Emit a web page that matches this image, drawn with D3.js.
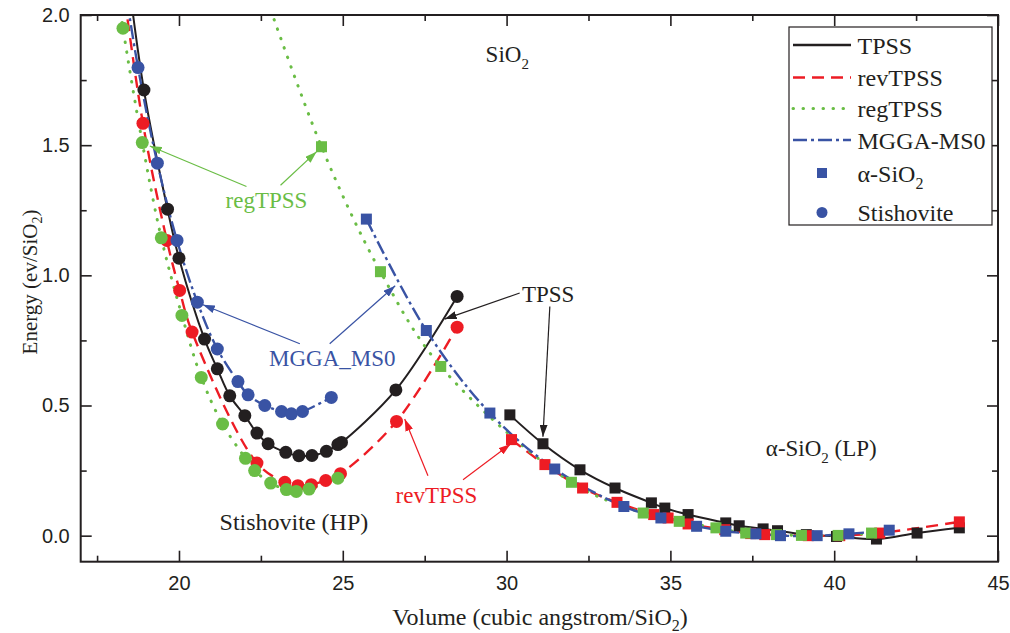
<!DOCTYPE html>
<html><head><meta charset="utf-8">
<script src="https://cdn.jsdelivr.net/npm/d3@7"></script>
<style>body{margin:0;background:#fff;} svg{display:block;}</style>
</head><body>
<svg id="chart" width="1010" height="633"></svg>
<script>
// ---------- data ----------
const xTicksMajor = [20, 25, 30, 35, 40, 45];
const xTicksMinor = [17.5, 22.5, 27.5, 32.5, 37.5, 42.5];
const yTicksMajor = [0.0, 0.5, 1.0, 1.5, 2.0];
const yTicksMinor = [0.25, 0.75, 1.25, 1.75];

// Stishovite (circles)
const stTPSS_V = [18.30, 18.93, 19.65, 20.00, 20.78, 21.17, 21.55, 22.01, 22.38, 22.72, 23.26, 23.66, 24.06, 24.50, 24.85, 24.96, 26.62, 28.49];
const stTPSS_E = [2.30, 1.712, 1.254, 1.066, 0.755, 0.641, 0.537, 0.461, 0.394, 0.353, 0.320, 0.307, 0.308, 0.324, 0.350, 0.358, 0.560, 0.919];
const stRev_V = [18.20, 18.90, 19.63, 20.02, 20.40, 22.38, 23.23, 23.63, 24.04, 24.48, 24.93, 26.64, 28.49];
const stRev_E = [2.20, 1.584, 1.134, 0.942, 0.782, 0.279, 0.205, 0.192, 0.196, 0.212, 0.238, 0.439, 0.801];
const stReg_V = [18.00, 18.29, 18.88, 19.46, 20.09, 20.68, 21.33, 22.03, 22.31, 22.80, 23.28, 23.58, 23.97, 24.85];
const stReg_E = [2.20, 1.949, 1.510, 1.144, 0.846, 0.608, 0.429, 0.297, 0.250, 0.202, 0.177, 0.170, 0.179, 0.221];
const stMS0_V = [18.30, 18.75, 19.34, 19.94, 20.56, 21.17, 21.80, 22.11, 22.62, 23.13, 23.43, 23.77, 24.65];
const stMS0_E = [2.15, 1.798, 1.431, 1.134, 0.897, 0.717, 0.592, 0.541, 0.500, 0.477, 0.468, 0.477, 0.531];
// points lying beyond the top of the frame (first entries) are not drawn as markers
const stHidden = [1, 1, 1, 1];

// alpha-SiO2 (squares)
const alTPSS_V = [30.10, 31.11, 32.24, 33.31, 34.42, 34.83, 35.54, 36.69, 37.10, 37.83, 38.27, 39.15, 40.07, 41.29, 42.53, 43.82];
const alTPSS_E = [0.464, 0.353, 0.253, 0.183, 0.126, 0.106, 0.081, 0.049, 0.038, 0.026, 0.019, 0.004, -0.003, -0.013, 0.010, 0.030];
const alRev_V = [30.15, 31.17, 32.32, 33.37, 34.49, 34.93, 35.54, 36.66, 37.45, 37.88, 39.21, 40.17, 41.39, 43.82];
const alRev_E = [0.369, 0.273, 0.183, 0.128, 0.081, 0.068, 0.045, 0.023, 0.008, 0.004, 0.000, 0.000, 0.010, 0.053];
const alReg_V = [22.30, 24.35, 26.15, 27.99, 31.98, 34.17, 35.27, 36.39, 37.30, 38.24, 39.00, 40.12, 41.14];
const alReg_E = [2.20, 1.494, 1.014, 0.650, 0.205, 0.087, 0.055, 0.030, 0.010, 0.004, 0.001, 0.001, 0.010];
const alMS0_V = [25.72, 27.55, 29.49, 31.47, 33.58, 34.71, 35.80, 36.69, 37.61, 38.36, 39.48, 40.45, 41.68];
const alMS0_E = [1.216, 0.788, 0.471, 0.256, 0.112, 0.068, 0.036, 0.017, 0.007, 0.000, 0.000, 0.007, 0.021];
const alHidden = [0, 0, 1, 0];

const seriesNames = ["TPSS", "revTPSS", "regTPSS", "MGGA-MS0"];
const seriesColors = ["#231f20", "#ed1c24", "#6abd45", "#3953a4"];
const seriesDash = [null, "12,7", "0.5,9.5", "14,4,3,4"];

// ---------- layout ----------
const svg = d3.select("#chart");
const x = d3.scaleLinear().domain([17, 45]).range([80.7, 998]);
const y = d3.scaleLinear().domain([-0.1, 2.0]).range([561.7, 15]);
const axisColor = "#231f20";

const defs = svg.append("defs");
defs.append("clipPath").attr("id", "plotclip").append("rect")
  .attr("x", x(17)).attr("y", y(2.0)).attr("width", x(45) - x(17)).attr("height", y(-0.1) - y(2.0));
seriesColors.forEach((c, i) => {
  defs.append("marker").attr("id", "arr" + i)
    .attr("viewBox", "0 0 12 8").attr("refX", 12).attr("refY", 4)
    .attr("markerWidth", 12).attr("markerHeight", 8).attr("markerUnits", "userSpaceOnUse")
    .attr("orient", "auto")
    .append("path").attr("d", "M0,0 L12,4 L0,8 Z").attr("fill", c);
});

// ---------- axes ----------
function styleAxis(g) {
  g.select(".domain").remove();
  g.selectAll(".tick line").attr("stroke", axisColor).attr("stroke-width", 1.6);
  g.selectAll(".tick text").attr("fill", "#231f20")
    .attr("font-family", "'Liberation Sans', Arial, sans-serif").attr("font-size", 20);
}
svg.append("g").attr("transform", `translate(0,${y(-0.1)})`)
  .call(d3.axisBottom(x).tickValues(xTicksMajor).tickSize(-11).tickPadding(14).tickFormat(d3.format("d")))
  .call(styleAxis);
svg.append("g").attr("transform", `translate(0,${y(-0.1)})`)
  .call(d3.axisBottom(x).tickValues(xTicksMinor).tickSize(-6).tickFormat(""))
  .call(styleAxis);
svg.append("g").attr("transform", `translate(0,${y(2.0)})`)
  .call(d3.axisTop(x).tickValues(xTicksMajor).tickSize(-11).tickFormat(""))
  .call(styleAxis);
svg.append("g").attr("transform", `translate(0,${y(2.0)})`)
  .call(d3.axisTop(x).tickValues(xTicksMinor).tickSize(-6).tickFormat(""))
  .call(styleAxis);
svg.append("g").attr("transform", `translate(${x(17)},0)`)
  .call(d3.axisLeft(y).tickValues(yTicksMajor).tickSize(-11).tickPadding(11).tickFormat(d3.format(".1f")))
  .call(styleAxis);
svg.append("g").attr("transform", `translate(${x(17)},0)`)
  .call(d3.axisLeft(y).tickValues(yTicksMinor).tickSize(-6).tickFormat(""))
  .call(styleAxis);
svg.append("g").attr("transform", `translate(${x(45)},0)`)
  .call(d3.axisRight(y).tickValues(yTicksMajor).tickSize(-11).tickFormat(""))
  .call(styleAxis);
svg.append("g").attr("transform", `translate(${x(45)},0)`)
  .call(d3.axisRight(y).tickValues(yTicksMinor).tickSize(-6).tickFormat(""))
  .call(styleAxis);

svg.append("rect").attr("x", x(17)).attr("y", y(2.0))
  .attr("width", x(45) - x(17)).attr("height", y(-0.1) - y(2.0))
  .attr("fill", "none").attr("stroke", axisColor).attr("stroke-width", 2);

// axis titles
const serif = "'Liberation Serif', 'Times New Roman', serif";
const xt = svg.append("text").attr("x", 540).attr("y", 625).attr("text-anchor", "middle")
  .attr("font-family", serif).attr("font-size", 24).attr("fill", "#231f20");
xt.append("tspan").text("Volume (cubic angstrom/SiO");
xt.append("tspan").attr("font-size", 16).attr("dy", 6).text("2");
xt.append("tspan").attr("dy", -6).text(")");

const yt = svg.append("text").attr("transform", "translate(36.5,282) rotate(-90)").attr("text-anchor", "middle")
  .attr("font-family", serif).attr("font-size", 21).attr("fill", "#231f20");
yt.append("tspan").text("Energy (ev/SiO");
yt.append("tspan").attr("font-size", 14).attr("dy", 5).text("2");
yt.append("tspan").attr("dy", -5).text(")");

// ---------- lines ----------
const plot = svg.append("g").attr("clip-path", "url(#plotclip)");
const line = d3.line().x(d => x(d[0])).y(d => y(d[1])).curve(d3.curveCatmullRom.alpha(0.5));

const stV = [stTPSS_V, stRev_V, stReg_V, stMS0_V], stE = [stTPSS_E, stRev_E, stReg_E, stMS0_E];
const alV = [alTPSS_V, alRev_V, alReg_V, alMS0_V], alE = [alTPSS_E, alRev_E, alReg_E, alMS0_E];
const zip = (a, b) => a.map((v, i) => [v, b[i]]);

[0, 1, 2, 3].forEach(i => {
  [zip(stV[i], stE[i]), zip(alV[i], alE[i])].forEach(pts => {
    plot.append("path").datum(pts).attr("d", line)
      .attr("fill", "none").attr("stroke", seriesColors[i])
      .attr("stroke-width", i === 0 ? 2 : (i === 2 ? 3 : 2.4))
      .attr("stroke-dasharray", seriesDash[i])
      .attr("stroke-linecap", i === 2 ? "round" : "butt");
  });
});

// ---------- markers ----------
[0, 1, 2, 3].forEach(i => {
  const pts = zip(alV[i], alE[i]).slice(alHidden[i]);
  plot.append("g").selectAll("rect").data(pts).join("rect")
    .attr("x", d => x(d[0]) - 5.5).attr("y", d => y(d[1]) - 5.5)
    .attr("width", 11).attr("height", 11).attr("fill", seriesColors[i]);
});
[0, 1, 2, 3].forEach(i => {
  const pts = zip(stV[i], stE[i]).slice(stHidden[i]);
  plot.append("g").selectAll("circle").data(pts).join("circle")
    .attr("cx", d => x(d[0])).attr("cy", d => y(d[1])).attr("r", 6.5).attr("fill", seriesColors[i]);
});

// ---------- annotations ----------
const annotations = [
  { text: "regTPSS", c: 2, tx: 22.67, ty: 1.259, anchor: "middle",
    arrows: [[22.06, 1.341, 19.11, 1.497], [23.10, 1.346, 24.20, 1.475]] },
  { text: "MGGA_MS0", c: 3, tx: 24.68, ty: 0.650, anchor: "middle",
    arrows: [[23.69, 0.737, 20.73, 0.887], [24.60, 0.737, 26.60, 0.960]] },
  { text: "TPSS", c: 0, tx: 31.27, ty: 0.899, anchor: "middle",
    arrows: [[30.40, 0.932, 28.11, 0.832], [31.32, 0.880, 31.11, 0.380]] },
  { text: "revTPSS", c: 1, tx: 27.86, ty: 0.127, anchor: "middle",
    arrows: [[27.60, 0.230, 26.89, 0.448], [28.67, 0.215, 30.12, 0.352]] }
];
annotations.forEach(a => {
  svg.append("text").attr("x", x(a.tx)).attr("y", y(a.ty)).attr("text-anchor", a.anchor)
    .attr("font-family", serif).attr("font-size", 23).attr("fill", seriesColors[a.c]).text(a.text);
  a.arrows.forEach(r => {
    svg.append("line").attr("x1", x(r[0])).attr("y1", y(r[1])).attr("x2", x(r[2])).attr("y2", y(r[3]))
      .attr("stroke", seriesColors[a.c]).attr("stroke-width", 1.2).attr("marker-end", `url(#arr${a.c})`);
  });
});

svg.append("text").attr("x", x(21.24)).attr("y", y(0.023))
  .attr("font-family", serif).attr("font-size", 24).attr("fill", "#231f20").text("Stishovite (HP)");

const sio = svg.append("text").attr("x", x(29.36)).attr("y", y(1.82))
  .attr("font-family", serif).attr("font-size", 23).attr("fill", "#231f20");
sio.append("tspan").text("SiO");
sio.append("tspan").attr("font-size", 15).attr("dy", 7).text("2");

const lp = svg.append("text").attr("x", x(41.30)).attr("y", y(0.305)).attr("text-anchor", "end")
  .attr("font-family", serif).attr("font-size", 23).attr("fill", "#231f20");
lp.append("tspan").text("\u03B1-SiO");
lp.append("tspan").attr("font-size", 15).attr("dy", 7).text("2");
lp.append("tspan").attr("dy", -7).text(" (LP)");

// ---------- legend ----------
const lg = svg.append("g");
lg.append("rect").attr("x", 789).attr("y", 27).attr("width", 203).attr("height", 198)
  .attr("fill", "#fff").attr("stroke", "#231f20").attr("stroke-width", 1.2);
const legendY = [45, 77.5, 108.5, 140, 173, 212.5];
seriesNames.forEach((n, i) => {
  lg.append("line").attr("x1", 793).attr("x2", 851).attr("y1", legendY[i]).attr("y2", legendY[i])
    .attr("stroke", seriesColors[i]).attr("stroke-width", i === 2 ? 3 : 2.4)
    .attr("stroke-dasharray", seriesDash[i]).attr("stroke-linecap", i === 2 ? "round" : "butt");
  lg.append("text").attr("x", 857.5).attr("y", legendY[i] + 8.5)
    .attr("font-family", serif).attr("font-size", 24).attr("fill", "#231f20").text(n);
});
lg.append("rect").attr("x", 822 - 5).attr("y", legendY[4] - 5).attr("width", 10).attr("height", 10).attr("fill", seriesColors[3]);
const la = lg.append("text").attr("x", 857.5).attr("y", legendY[4] + 8.5)
  .attr("font-family", serif).attr("font-size", 24).attr("fill", "#231f20");
la.append("tspan").text("\u03B1-SiO");
la.append("tspan").attr("font-size", 16).attr("dy", 7).text("2");
lg.append("circle").attr("cx", 822).attr("cy", legendY[5]).attr("r", 5.5).attr("fill", seriesColors[3]);
lg.append("text").attr("x", 857.5).attr("y", legendY[5] + 8.5)
  .attr("font-family", serif).attr("font-size", 24).attr("fill", "#231f20").text("Stishovite");
</script>
</body></html>
